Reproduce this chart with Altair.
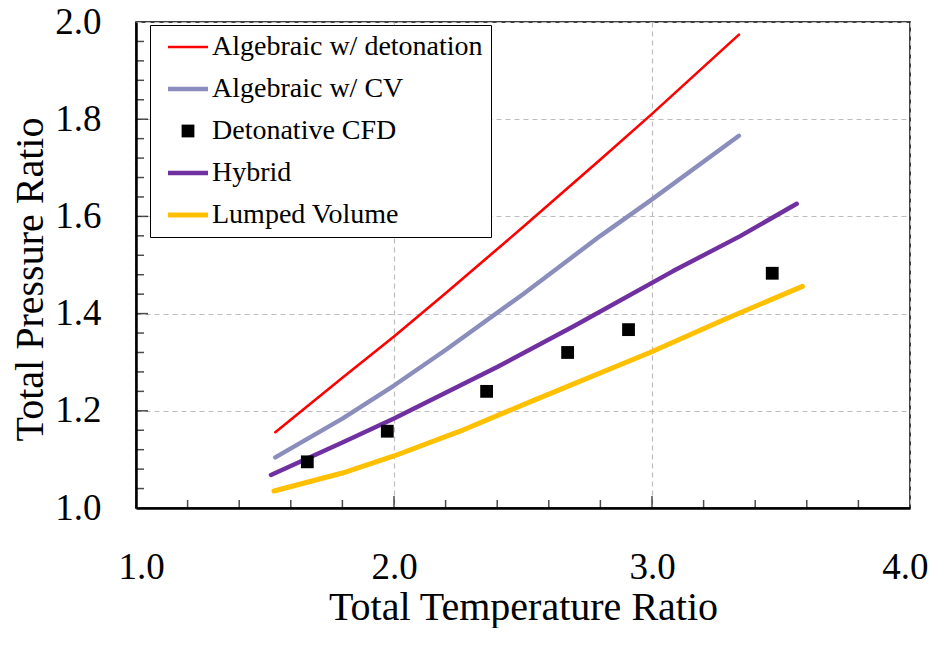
import altair as alt
import pandas as pd

# ---------------- data ----------------
series_names = ["Algebraic w/ detonation", "Algebraic w/ CV", "Detonative CFD", "Hybrid", "Lumped Volume"]

det_x = [1.54, 1.8, 2.0, 2.2, 2.5, 2.8, 3.0, 3.337]
det_y = [1.156, 1.268, 1.353, 1.442, 1.578, 1.717, 1.811, 1.974]

cv_x = [1.54, 1.8, 2.0, 2.2, 2.5, 2.8, 3.0, 3.337]
cv_y = [1.104, 1.184, 1.252, 1.325, 1.44, 1.56, 1.635, 1.766]

hyb_x = [1.523, 1.8, 2.0, 2.4, 2.7, 3.08, 3.34, 3.561]
hyb_y = [1.068, 1.135, 1.184, 1.29, 1.375, 1.487, 1.559, 1.626]

lump_x = [1.535, 1.8, 2.0, 2.256, 2.539, 2.992, 3.276, 3.583]
lump_y = [1.035, 1.072, 1.107, 1.158, 1.221, 1.320, 1.387, 1.456]

cfd_x = [1.664, 1.974, 2.359, 2.673, 2.909, 3.466]
cfd_y = [1.095, 1.158, 1.240, 1.320, 1.367, 1.483]

x_labels = [1.0, 2.0, 3.0, 4.0]
y_labels = [1.0, 1.2, 1.4, 1.6, 1.8, 2.0]
x_minor = [1.2, 1.4, 1.6, 1.8, 2.2, 2.4, 2.6, 2.8, 3.2, 3.4, 3.6, 3.8]
x_major = [2.0, 3.0]
y_minor = [1.04, 1.08, 1.12, 1.16, 1.24, 1.28, 1.32, 1.36, 1.44, 1.48, 1.52, 1.56,
           1.64, 1.68, 1.72, 1.76, 1.84, 1.88, 1.92, 1.96]
y_major = [1.2, 1.4, 1.6, 1.8]

# ---------------- styling ----------------
FONT = "Liberation Serif"
colors = {
    "Algebraic w/ detonation": "#FF0000",
    "Algebraic w/ CV": "#8B8EBC",
    "Detonative CFD": "#000000",
    "Hybrid": "#7030A0",
    "Lumped Volume": "#FFC000",
}
widths = {
    "Algebraic w/ detonation": 2.6,
    "Algebraic w/ CV": 4.4,
    "Hybrid": 4.4,
    "Lumped Volume": 5.0,
}
# legend/point symbol paths (unit = 10 px at size 400)
shapes = {
    "Algebraic w/ detonation": "M-2,-0.13H2V0.13H-2Z",
    "Algebraic w/ CV": "M-2,-0.22H2V0.22H-2Z",
    "Detonative CFD": "M-0.64,-0.64H0.64V0.64H-0.64Z",
    "Hybrid": "M-2,-0.22H2V0.22H-2Z",
    "Lumped Volume": "M-2,-0.24H2V0.24H-2Z",
}

x_scale = alt.Scale(domain=[1, 4], nice=False, zero=False)
y_scale = alt.Scale(domain=[1, 2], nice=False, zero=False)

x_axis = alt.Axis(
    values=x_labels, format=".1f", grid=True, gridDash=[5, 4], gridColor="#BDBDBD",
    gridWidth=1.2, ticks=False, domainColor="black", domainWidth=2.5,
    labelFont=FONT, labelFontSize=37, labelColor="black", labelPadding=41,
    labelFlush=True, labelFlushOffset=18,
    title="Total Temperature Ratio", titleFont=FONT, titleFontSize=40,
    titleFontWeight="normal", titleColor="black", titleY=79, titleBaseline="top",
)
y_axis = alt.Axis(
    values=y_labels, format=".1f", grid=True, gridDash=[5, 4], gridColor="#BDBDBD",
    gridWidth=1.2, ticks=False, domainColor="black", domainWidth=2.5,
    labelFont=FONT, labelFontSize=37, labelColor="black", labelPadding=35, labelFlush=False,
    title="Total Pressure Ratio", titleFont=FONT, titleFontSize=40,
    titleFontWeight="normal", titleColor="black", titleX=-106, titleY=257,
    titleBaseline="middle",
)

X = lambda f: alt.X(f, scale=x_scale, axis=x_axis, title="Total Temperature Ratio")
Y = lambda f: alt.Y(f, scale=y_scale, axis=y_axis, title="Total Pressure Ratio")

layers = []
line_sets = [
    ("Algebraic w/ detonation", det_x, det_y),
    ("Algebraic w/ CV", cv_x, cv_y),
    ("Hybrid", hyb_x, hyb_y),
    ("Lumped Volume", lump_x, lump_y),
]
for name, xs, ys in line_sets:
    df = pd.DataFrame({"x": xs, "y": ys, "series": name})
    layers.append(
        alt.Chart(df).mark_line(
            color=colors[name], strokeWidth=widths[name], strokeCap="round", strokeJoin="round"
        ).encode(x=X("x:Q"), y=Y("y:Q"))
    )

legend = alt.Legend(
    title=None, orient="none", legendX=14, legendY=3, direction="vertical",
    strokeColor="black", fillColor="white", padding=8,
    symbolSize=400, symbolOffset=16, symbolStrokeWidth=0, symbolOpacity=1,
    labelOffset=10, rowPadding=14, labelFont=FONT, labelFontSize=28,
    labelColor="black", labelLimit=400,
)

cfd_df = pd.DataFrame({"x": cfd_x, "y": cfd_y, "series": "Detonative CFD"})
points = alt.Chart(cfd_df).mark_point(filled=True, opacity=1, size=400, strokeWidth=0).encode(
    x=X("x:Q"),
    y=Y("y:Q"),
    color=alt.Color("series:N", scale=alt.Scale(domain=series_names, range=[colors[s] for s in series_names]), legend=legend),
    shape=alt.Shape("series:N", scale=alt.Scale(domain=series_names, range=[shapes[s] for s in series_names]), legend=legend),
)


def xticks(vals, base, length):
    df = pd.DataFrame({"x": vals, "y": [base] * len(vals)})
    return alt.Chart(df).mark_tick(
        orient="vertical", size=length, thickness=1.5, color="black", yOffset=-length / 2
    ).encode(x=X("x:Q"), y=Y("y:Q"))


def yticks(vals, base, length):
    df = pd.DataFrame({"y": vals, "x": [base] * len(vals)})
    return alt.Chart(df).mark_tick(
        orient="horizontal", size=length, thickness=1.5, color="black", xOffset=length / 2
    ).encode(x=X("x:Q"), y=Y("y:Q"))


chart = alt.layer(
    *layers, points,
    xticks(x_minor, 1.0, 8), xticks(x_major, 1.0, 12),
    yticks(y_minor, 1.0, 8), yticks(y_major, 1.0, 12),
).properties(
    width=774, height=486,
    autosize=alt.AutoSizeParams(type="none"),
    padding={"left": 128, "top": 14, "right": 20, "bottom": 120},
    background="white",
).configure_view(stroke="black", strokeWidth=1.5)

chart.save("out.html", embed_options={"renderer": "svg", "actions": False})
